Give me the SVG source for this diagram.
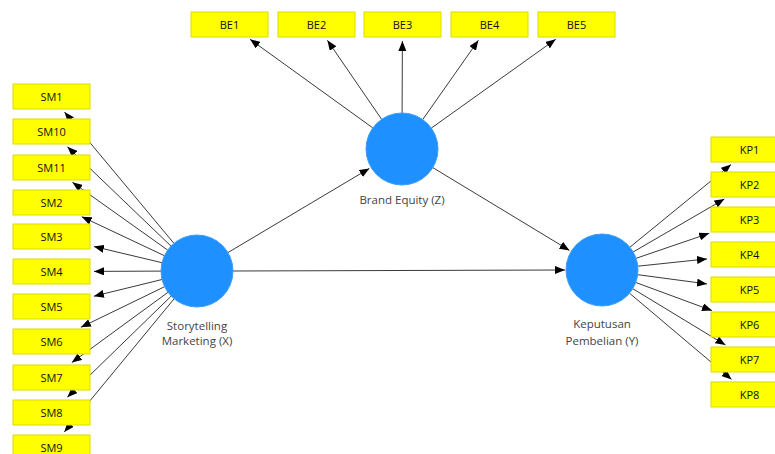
<svg xmlns="http://www.w3.org/2000/svg" width="775" height="454" viewBox="0 0 775 454">
<defs>
<marker id="ah" viewBox="0 0 10 8" refX="10" refY="4" markerWidth="10" markerHeight="8" markerUnits="userSpaceOnUse" orient="auto">
<path d="M0,0 L10,4 L0,8 z" fill="#000"/>
</marker>
<style>
.c line{stroke:#3a3a3a;stroke-width:1;marker-end:url(#ah);}
.box rect{fill:#ffff00;stroke:#dcdc00;stroke-width:1;}
.box text{font-family:"Open Sans","Liberation Sans",sans-serif;font-size:11px;fill:#111;text-anchor:middle;}
.lv circle{fill:#1e90ff;stroke:#3a9cff;stroke-width:1;}
.lv text{font-family:"Open Sans","Liberation Sans",sans-serif;font-size:11.5px;fill:#444;text-anchor:middle;}
</style>
</defs>
<rect width="775" height="454" fill="#fff"/>
<g id="connectors" class="c">
<line x1="173.9" y1="243.3" x2="64.5" y2="112.1"/>
<line x1="171.0" y1="246.1" x2="67.4" y2="146.8"/>
<line x1="167.7" y1="250.1" x2="72.4" y2="182.3"/>
<line x1="164.4" y1="255.7" x2="81.7" y2="216.7"/>
<line x1="162.0" y1="262.7" x2="93.9" y2="246.5"/>
<line x1="161.0" y1="271.1" x2="94.0" y2="271.4"/>
<line x1="162.0" y1="279.5" x2="93.9" y2="296.2"/>
<line x1="164.6" y1="286.7" x2="80.9" y2="327.3"/>
<line x1="168.0" y1="292.3" x2="71.8" y2="362.6"/>
<line x1="171.2" y1="296.1" x2="67.3" y2="397.2"/>
<line x1="174.1" y1="298.8" x2="64.3" y2="431.9"/>
<line x1="372.8" y1="127.9" x2="250.0" y2="39.3"/>
<line x1="381.6" y1="119.3" x2="327.4" y2="40.3"/>
<line x1="402.1" y1="113.0" x2="402.4" y2="41.0"/>
<line x1="422.7" y1="119.6" x2="478.4" y2="40.3"/>
<line x1="431.3" y1="128.1" x2="555.7" y2="39.3"/>
<line x1="629.9" y1="247.2" x2="731.1" y2="164.5"/>
<line x1="633.1" y1="252.0" x2="724.4" y2="199.0"/>
<line x1="636.1" y1="258.3" x2="709.2" y2="233.3"/>
<line x1="637.8" y1="266.2" x2="707.0" y2="258.9"/>
<line x1="637.7" y1="274.7" x2="707.0" y2="283.9"/>
<line x1="635.8" y1="282.5" x2="712.0" y2="310.6"/>
<line x1="632.8" y1="288.7" x2="725.5" y2="345.0"/>
<line x1="629.5" y1="293.2" x2="731.6" y2="379.4"/>
<line x1="227.9" y1="252.6" x2="369.4" y2="168.4"/>
<line x1="233.0" y1="271.0" x2="565.0" y2="270.0"/>
<line x1="432.8" y1="167.6" x2="569.5" y2="250.4"/>
</g>
<g id="SM1" class="box"><rect x="13" y="84" width="77" height="25"/><text x="51.5" y="100.5">SM1</text></g>
<g id="SM10" class="box"><rect x="13" y="119" width="77" height="25"/><text x="51.5" y="135.5">SM10</text></g>
<g id="SM11" class="box"><rect x="13" y="155" width="77" height="25"/><text x="51.5" y="171.5">SM11</text></g>
<g id="SM2" class="box"><rect x="13" y="190" width="77" height="25"/><text x="51.5" y="206.5">SM2</text></g>
<g id="SM3" class="box"><rect x="13" y="224" width="77" height="25"/><text x="51.5" y="240.5">SM3</text></g>
<g id="SM4" class="box"><rect x="13" y="259" width="77" height="25"/><text x="51.5" y="275.5">SM4</text></g>
<g id="SM5" class="box"><rect x="13" y="294" width="77" height="25"/><text x="51.5" y="310.5">SM5</text></g>
<g id="SM6" class="box"><rect x="13" y="329" width="77" height="25"/><text x="51.5" y="345.5">SM6</text></g>
<g id="SM7" class="box"><rect x="13" y="365" width="77" height="25"/><text x="51.5" y="381.5">SM7</text></g>
<g id="SM8" class="box"><rect x="13" y="400" width="77" height="25"/><text x="51.5" y="416.5">SM8</text></g>
<g id="SM9" class="box"><rect x="13" y="435" width="77" height="25"/><text x="51.5" y="451.5">SM9</text></g>
<g id="BE1" class="box"><rect x="191" y="12" width="77" height="25"/><text x="229.5" y="28.5">BE1</text></g>
<g id="BE2" class="box"><rect x="278" y="12" width="77" height="25"/><text x="316.5" y="28.5">BE2</text></g>
<g id="BE3" class="box"><rect x="364" y="12" width="77" height="25"/><text x="402.5" y="28.5">BE3</text></g>
<g id="BE4" class="box"><rect x="451" y="12" width="77" height="25"/><text x="489.5" y="28.5">BE4</text></g>
<g id="BE5" class="box"><rect x="538" y="12" width="77" height="25"/><text x="576.5" y="28.5">BE5</text></g>
<g id="KP1" class="box"><rect x="711" y="137" width="77" height="25"/><text x="749.5" y="153.5">KP1</text></g>
<g id="KP2" class="box"><rect x="711" y="172" width="77" height="25"/><text x="749.5" y="188.5">KP2</text></g>
<g id="KP3" class="box"><rect x="711" y="207" width="77" height="25"/><text x="749.5" y="223.5">KP3</text></g>
<g id="KP4" class="box"><rect x="711" y="242" width="77" height="25"/><text x="749.5" y="258.5">KP4</text></g>
<g id="KP5" class="box"><rect x="711" y="277" width="77" height="25"/><text x="749.5" y="293.5">KP5</text></g>
<g id="KP6" class="box"><rect x="711" y="312" width="77" height="25"/><text x="749.5" y="328.5">KP6</text></g>
<g id="KP7" class="box"><rect x="711" y="347" width="77" height="25"/><text x="749.5" y="363.5">KP7</text></g>
<g id="KP8" class="box"><rect x="711" y="382" width="77" height="25"/><text x="749.5" y="398.5">KP8</text></g>
<g id="BE" class="lv"><circle cx="402" cy="149" r="36"/><text x="402" y="204">Brand Equity (Z)</text></g>
<g id="SM" class="lv"><circle cx="197" cy="271" r="36"/><text x="197" y="330">Storytelling</text><text x="197" y="345">Marketing (X)</text></g>
<g id="KP" class="lv"><circle cx="602" cy="270" r="36"/><text x="602" y="328">Keputusan</text><text x="602" y="345">Pembelian (Y)</text></g>
</svg>
